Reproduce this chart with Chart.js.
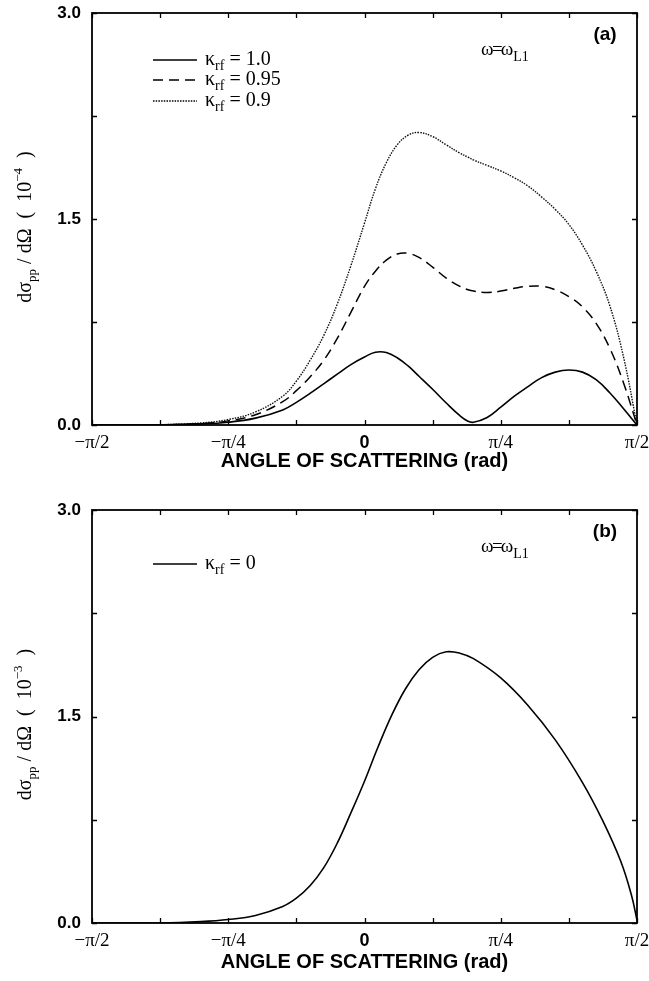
<!DOCTYPE html>
<html><head><meta charset="utf-8">
<script src="https://cdn.jsdelivr.net/npm/chart.js@4.4.0/dist/chart.umd.min.js"></script>
<style>
html,body{margin:0;padding:0;background:#fff;}
#wrap{position:relative;width:649px;height:981px;overflow:hidden;}
canvas{position:absolute;left:0;}
#c1{top:0}
#c2{top:490px}
</style></head><body>
<div id="wrap"><canvas id="c1" width="649" height="490"></canvas><canvas id="c2" width="649" height="491"></canvas></div>
<script>
// ---- DATA (angles in units of π rad) ----
const angleTop = [-0.5,-0.4,-0.3,-0.25,-0.2,-0.15,-0.125,-0.1,-0.075,-0.05,-0.025,0,0.02,0.04,0.06,0.08,0.1,0.125,0.15,0.175,0.19,0.2,0.225,0.25,0.275,0.3,0.325,0.35,0.375,0.4,0.425,0.45,0.475,0.5];
const kappa100 = [0,0,0.008,0.02,0.05,0.11,0.165,0.23,0.30,0.37,0.44,0.495,0.53,0.528,0.49,0.43,0.355,0.26,0.16,0.068,0.027,0.02,0.055,0.13,0.21,0.28,0.345,0.385,0.40,0.385,0.33,0.235,0.12,0.0];
const kappa095 = [0,0,0.01,0.03,0.075,0.17,0.25,0.35,0.47,0.63,0.82,1.01,1.12,1.20,1.245,1.25,1.22,1.15,1.07,1.01,0.985,0.975,0.965,0.975,0.995,1.01,1.01,0.985,0.935,0.86,0.74,0.56,0.31,0.0];
const kappa090 = [0,0,0.015,0.04,0.095,0.21,0.32,0.47,0.65,0.88,1.16,1.47,1.72,1.91,2.04,2.11,2.13,2.10,2.04,1.98,1.95,1.93,1.89,1.85,1.80,1.74,1.66,1.57,1.46,1.31,1.12,0.87,0.50,0.0];
const angleBottom = [-0.5,-0.375,-0.3,-0.25,-0.2,-0.15,-0.125,-0.1,-0.075,-0.05,-0.025,0,0.025,0.05,0.075,0.1,0.125,0.15,0.175,0.2,0.25,0.3,0.35,0.4,0.4375,0.47,0.49,0.5];
const kappa0 = [0,0,0.01,0.025,0.055,0.12,0.18,0.27,0.40,0.58,0.80,1.03,1.28,1.51,1.70,1.84,1.93,1.97,1.96,1.92,1.78,1.58,1.33,1.02,0.74,0.45,0.2,0.02];
const xTickValues = [-0.5,-0.25,0,0.25,0.5];
const xTickLabels = ['\u2212\u03C0/2','\u2212\u03C0/4','0','\u03C0/4','\u03C0/2'];
const yTickValues = [0,1.5,3.0];
const yTickLabels = ['0.0','1.5','3.0'];

const SERIF = '"Liberation Serif","Times New Roman",serif';
const SANS = '"Liberation Sans",Arial,Helvetica,sans-serif';

function drawRich(ctx, x, y, segs, align){
  let w = 0;
  segs.forEach(s=>{ctx.font=s.f; s.w=ctx.measureText(s.t).width + (s.dx||0); w+=s.w;});
  let cx = align==='center' ? x - w/2 : x;
  ctx.textAlign='left'; ctx.textBaseline='alphabetic';
  segs.forEach(s=>{ctx.font=s.f; ctx.fillText(s.t, cx + (s.pre||0), y+(s.dy||0)); cx+=s.w;});
}

const framePlugin = {
  id:'frame',
  afterDatasetsDraw(chart){
    const {ctx, chartArea:a, scales:{x,y}} = chart;
    ctx.save();
    ctx.strokeStyle='#000';
    const L = 5;
    ctx.lineWidth = 1.3;
    ctx.beginPath();
    x.ticks.forEach(t=>{
      const p = Math.round(x.getPixelForValue(t.value))+0.5;
      ctx.moveTo(p,a.bottom); ctx.lineTo(p,a.bottom-L);
      ctx.moveTo(p,a.top); ctx.lineTo(p,a.top+L);
    });
    y.ticks.forEach(t=>{
      const p = Math.round(y.getPixelForValue(t.value))+0.5;
      ctx.moveTo(a.left,p); ctx.lineTo(a.left+L,p);
      ctx.moveTo(a.right,p); ctx.lineTo(a.right-L,p);
    });
    ctx.stroke();
    ctx.lineWidth = 1.8;
    ctx.strokeRect(a.left, a.top, a.right-a.left, a.bottom-a.top);
    ctx.restore();
  }
};

const textPlugin = {
  id:'texts',
  afterDraw(chart, args, o){
    const {ctx, chartArea:a} = chart;
    ctx.save();
    ctx.fillStyle='#000'; ctx.strokeStyle='#000';
    // legend
    o.legend.forEach((r)=>{
      const ds = chart.data.datasets[r.ds];
      const yy = a.top + r.dy;
      ctx.lineWidth = ds.borderWidth;
      ctx.setLineDash(ds.borderDash||[]);
      ctx.beginPath(); ctx.moveTo(153, yy); ctx.lineTo(197, yy); ctx.stroke();
      ctx.setLineDash([]);
      drawRich(ctx, 205, yy+5, [
        {t:'\u03BA', f:'20px '+SERIF},
        {t:'rf', f:'14px '+SERIF, dy:5},
        {t:' = '+r.val, f:'20px '+SERIF}
      ]);
    });
    // omega label
    drawRich(ctx, 481, a.top+42, [
      {t:'\u03C9', f:'19px '+SERIF, dx:-1},
      {t:'=', f:'19px '+SERIF, dx:-2, pre:-0.5},
      {t:'\u03C9', f:'19px '+SERIF, pre:-0.5, dx:-0.5},
      {t:'L1', f:'14px '+SERIF, dy:6}
    ]);
    // panel letter
    ctx.font='bold 19px '+SANS; ctx.textAlign='center'; ctx.textBaseline='alphabetic';
    ctx.fillText(o.letter, 605, a.top+27);
    // y title (rotated)
    const cy = (a.top+a.bottom)/2 + 8;
    ctx.translate(24, cy);
    ctx.rotate(-Math.PI/2);
    drawRich(ctx, 0, 7, [
      {t:'d\u03C3', f:'20px '+SERIF},
      {t:'pp', f:'13px '+SERIF, dy:5},
      {t:' / d\u03A9  (  10', f:'20px '+SERIF},
      {t:'\u2212' + o.exp, f:'13px '+SERIF, dy:-9},
      {t:'  )', f:'20px '+SERIF}
    ], 'center');
    ctx.restore();
  }
};

function xLabel(v){
  const i = xTickValues.findIndex(t=>Math.abs(t-v)<1e-9);
  return i>=0 ? xTickLabels[i] : '';
}
function yLabel(v){
  const i = yTickValues.findIndex(t=>Math.abs(t-v)<1e-9);
  return i>=0 ? yTickLabels[i] : '';
}

function makeChart(id, canvasH, areaTop, areaBottom, titleGap, datasets, opts){
  const titlePad = canvasH - (areaBottom + titleGap) - 12;
  return new Chart(document.getElementById(id), {
    type:'line',
    data:{datasets},
    options:{
      responsive:false, animation:false, devicePixelRatio:1,
      layout:{padding:{left:0,right:12,top:areaTop,bottom:0}},
      plugins:{legend:{display:false}, tooltip:{enabled:false}, texts:opts},
      elements:{point:{radius:0}, line:{tension:0.4}},
      scales:{
        x:{type:'linear', min:-0.5, max:0.5,
          grid:{display:false, drawTicks:false}, border:{display:false},
          ticks:{stepSize:0.125, autoSkip:false, maxRotation:0, padding:7, color:'#000',
            callback:(v)=>xLabel(v),
            font:(c)=> (c.tick && Math.abs(c.tick.value)<1e-9) ? {family:SANS, weight:'bold', size:18} : {family:SERIF, size:19}
          },
          title:{display:true, text:'ANGLE OF SCATTERING (rad)', color:'#000',
            font:{family:SANS, weight:'bold', size:20}, padding:{top:0,bottom:titlePad}},
          afterFit:(s)=>{ s.height = canvasH - areaBottom; s.paddingLeft = 0; s.paddingRight = 0; }
        },
        y:{type:'linear', min:0, max:3,
          grid:{display:false, drawTicks:false}, border:{display:false},
          ticks:{stepSize:0.75, autoSkip:false, padding:11, color:'#000',
            callback:(v)=>yLabel(v),
            font:{family:SANS, weight:'bold', size:17}},
          afterFit:(s)=>{ s.width = 92; s.paddingTop = 0; s.paddingBottom = 0; }
        }
      }
    },
    plugins:[framePlugin, textPlugin]
  });
}

function pts(xs, ys){ return xs.map((x,i)=>({x, y:ys[i]})); }

makeChart('c1', 490, 13, 425, 36, [
  {label:'\u03BArf = 1.0', data:pts(angleTop,kappa100), borderColor:'#000', borderWidth:1.6, fill:false},
  {label:'\u03BArf = 0.95', data:pts(angleTop,kappa095), borderColor:'#000', borderWidth:1.5, borderDash:[10,6], fill:false},
  {label:'\u03BArf = 0.9', data:pts(angleTop,kappa090), borderColor:'#111', borderWidth:1.4, borderDash:[1.5,1.2], fill:false}
], {letter:'(a)', exp:'4', legend:[{ds:0,dy:47,val:'1.0'},{ds:1,dy:67,val:'0.95'},{ds:2,dy:88,val:'0.9'}]});

makeChart('c2', 491, 20, 433, 39, [
  {label:'\u03BArf = 0', data:pts(angleBottom,kappa0), borderColor:'#000', borderWidth:1.6, fill:false}
], {letter:'(b)', exp:'3', legend:[{ds:0,dy:54,val:'0'}]});
</script>
</body></html>
